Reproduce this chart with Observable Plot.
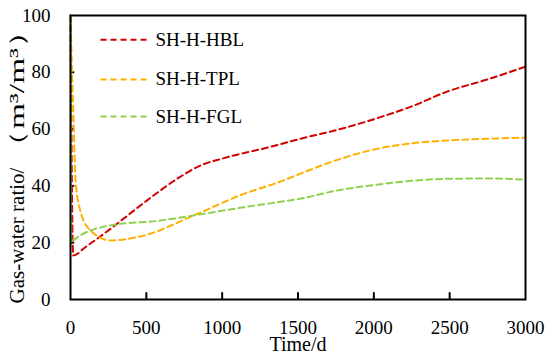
<!DOCTYPE html>
<html>
<head>
<meta charset="utf-8">
<script src="https://cdn.jsdelivr.net/npm/d3@7"></script>
<script src="https://cdn.jsdelivr.net/npm/@observablehq/plot@0.6"></script>
<style>
  html, body { margin: 0; padding: 0; background: #fff; }
</style>
</head>
<body>
<div id="chart"></div>
<script>
// Series names and colours
const seriesNames = ["SH-H-HBL", "SH-H-TPL", "SH-H-FGL"];
const seriesColors = ["#d40000", "#ffb000", "#92d050"];

// Time (d) and gas-water ratio (m3/m3)
const hblTime  = [0, 18, 100, 264, 505, 703, 857, 1000, 1099, 1300, 1516, 1750, 2043, 2250, 2483, 2750, 3000];
const hblRatio = [100, 15.5, 18.5, 24.9, 34.9, 42.5, 47.2, 49.6, 51.0, 53.5, 56.6, 59.6, 64.2, 68.0, 73.2, 77.5, 82.0];

const tplTime  = [0, 10, 22, 33, 66, 132, 264, 483, 813, 1143, 1384, 1516, 1750, 2043, 2250, 2483, 2750, 3000];
const tplRatio = [100, 80, 60, 42, 31, 24.3, 20.8, 22.5, 29.6, 37.2, 41.5, 44.3, 49.0, 53.3, 55.0, 56.0, 56.6, 57.0];

const fglTime  = [0, 6, 22, 264, 593, 813, 1143, 1384, 1516, 1750, 2043, 2250, 2483, 2750, 3000];
const fglRatio = [100, 20, 21, 26.1, 27.8, 29.6, 32.5, 34.4, 35.5, 38.3, 40.6, 41.8, 42.5, 42.6, 42.2];

const xTicks = [0, 500, 1000, 1500, 2000, 2500, 3000];
const yTicks = [0, 20, 40, 60, 80, 100];

const xLabel = "Time/d";
const yLabelMain = "Gas-water ratio/";
const yLabelUnit = "（m³/m³）";

const rows = [];
[[hblTime, hblRatio], [tplTime, tplRatio], [fglTime, fglRatio]].forEach(([t, v], i) => {
  t.forEach((d, j) => rows.push({series: seriesNames[i], time: d, ratio: v[j]}));
});

// legend entries (positions in data units of the chart's scales)
const legendY = [91.5, 77.5, 64.4];
const legend = seriesNames.map((s, i) => ({series: s, y: legendY[i]}));

const font = "'Liberation Serif', 'Times New Roman', serif";

const chart = Plot.plot({
  width: 550,
  height: 356,
  marginLeft: 70,
  marginRight: 25,
  marginTop: 15,
  marginBottom: 57,
  style: {fontFamily: font, fontSize: "19px", color: "#000", background: "#fff"},
  x: {domain: [0, 3000]},
  y: {domain: [0, 100]},
  color: {domain: seriesNames, range: seriesColors},
  marks: [
    Plot.axisX({ticks: xTicks, tickFormat: "d", tickSize: 0, tickPadding: 21, label: null, fontSize: 19}),
    Plot.axisY({ticks: yTicks, tickFormat: "d", tickSize: 0, tickPadding: 20, label: null, fontSize: 19}),
    Plot.ruleX(xTicks.slice(1, -1), {x: d => d, y1: 0, y2: 2.4, stroke: "#000", strokeWidth: 2}),
    Plot.ruleY(yTicks.slice(1, -1), {y: d => d, x1: 0, x2: 28, stroke: "#000", strokeWidth: 2}),
    Plot.line(rows, {x: "time", y: "ratio", z: "series", stroke: "series", strokeWidth: 2,
      strokeDasharray: "6,4", curve: "monotone-x"}),
    Plot.link(legend, {x1: 198, x2: 508, y1: "y", y2: "y", stroke: "series", strokeWidth: 2, strokeDasharray: "6,4"}),
    Plot.text(legend, {x: 560, y: "y", text: "series", textAnchor: "start", fontSize: 19, fill: "#000"}),
    Plot.frame({stroke: "#000", strokeWidth: 2}),
    Plot.text([xLabel], {frameAnchor: "bottom", dy: 51, text: d => d, fontSize: 20, fill: "#000"}),
    Plot.text([yLabelMain], {frameAnchor: "left", textAnchor: "middle", dx: -53, dy: 78, rotate: -90, text: d => d, fontSize: 21, fill: "#000"}),
    Plot.text([yLabelUnit], {frameAnchor: "left", textAnchor: "middle", dx: -53, dy: -69, rotate: -90, text: d => d, fontSize: 21, fill: "#000"})
  ]
});
// widen the unit part of the y label to the reference's wider serif
d3.select(chart).selectAll("text").filter(function() { return this.textContent === yLabelUnit; })
  .attr("textLength", 148).attr("lengthAdjust", "spacingAndGlyphs");
document.getElementById("chart").appendChild(chart);
</script>
</body>
</html>
